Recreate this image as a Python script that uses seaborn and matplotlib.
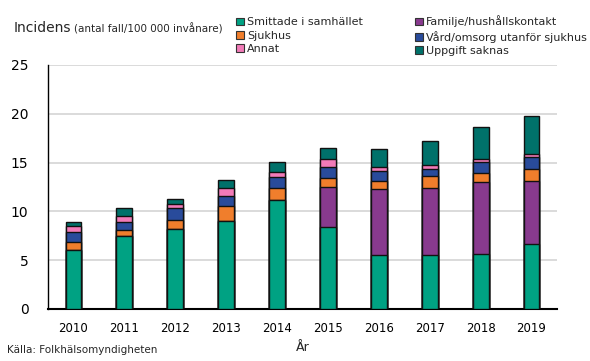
import numpy as np
import pandas as pd
import matplotlib
matplotlib.use("Agg")
import matplotlib.pyplot as plt
import seaborn as sns
from matplotlib.patches import Patch

years = ["2010", "2011", "2012", "2013", "2014", "2015", "2016", "2017", "2018", "2019"]
smittade = [6.04, 7.44, 8.20, 9.05, 11.21, 8.37, 5.56, 5.56, 5.62, 6.69]
familje = [0, 0, 0, 0, 0, 4.08, 6.75, 6.85, 7.38, 6.45]
sjukhus = [0.78, 0.62, 0.89, 1.55, 1.20, 0.96, 0.79, 1.17, 0.96, 1.16]
vard = [1.07, 0.82, 1.30, 0.96, 1.10, 1.13, 1.06, 0.79, 1.13, 1.23]
annat = [0.58, 0.62, 0.34, 0.79, 0.52, 0.86, 0.42, 0.38, 0.31, 0.31]
saknas = [0.45, 0.82, 0.59, 0.82, 0.99, 1.13, 1.78, 2.46, 3.29, 3.95]

series = [
    ("Smittade i samhället", smittade, "#00a283"),
    ("Familje/hushållskontakt", familje, "#883a8e"),
    ("Sjukhus", sjukhus, "#f07e2c"),
    ("Vård/omsorg utanför sjukhus", vard, "#294b9b"),
    ("Annat", annat, "#f27bb8"),
    ("Uppgift saknas", saknas, "#00716a"),
]

sns.set_theme(style="white")
plt.rcParams['font.family'] = ['DejaVu Sans']

fig = plt.figure(figsize=(5.9, 3.61), dpi=100)
ax = fig.add_axes([48/590, 1-309/361, (557-48)/590, (309-65)/361])

cum = np.cumsum(np.array([s[1] for s in series]), axis=0)
for i in range(len(series) - 1, -1, -1):
    df = pd.DataFrame({"year": years, "value": cum[i]})
    sns.barplot(data=df, x="year", y="value", order=years, color=series[i][2],
                saturation=1, width=0.31, edgecolor="#111111", linewidth=1.0,
                ax=ax, zorder=3)

ax.set_ylim(0, 25)
ax.set_xlim(-0.5, 9.5)
ax.set_yticks([0, 5, 10, 15, 20, 25])
ax.yaxis.grid(True, color="#d4d4d4", linewidth=1.2)
ax.xaxis.grid(False)
ax.set_axisbelow(True)
for s in ["top", "right"]:
    ax.spines[s].set_visible(False)
ax.spines["left"].set_color("black")
ax.spines["left"].set_linewidth(1.0)
ax.spines["bottom"].set_color("black")
ax.spines["bottom"].set_linewidth(1.5)
ax.tick_params(axis="y", length=0, labelsize=10, pad=14, colors="black")
ax.tick_params(axis="x", which="major", length=0, labelsize=8.5, pad=9, colors="black")
ax.set_xticks(np.arange(-0.5, 10, 1), minor=True)
ax.tick_params(axis="x", which="minor", length=4, width=1.0, direction="out", color="black")
ax.set_ylabel("")
ax.set_xlabel("År", fontsize=9, labelpad=5)

handles = [Patch(facecolor=c, edgecolor="#333333", linewidth=0.8, label=l) for l, v, c in series]
order = [0, 2, 4, 1, 3, 5]
fig.legend([handles[i] for i in order], [series[i][0] for i in order],
           loc="upper left", bbox_to_anchor=(232/590, 1-11/361), ncol=2,
           frameon=False, fontsize=8, handlelength=0.7, handleheight=0.7,
           handletextpad=0.25, columnspacing=4.7, labelspacing=0.3,
           borderaxespad=0)

t1 = fig.text(14/590, 1-28/361, "Incidens", fontsize=10, va="center", ha="left")
fig.canvas.draw()
bb = t1.get_window_extent()
x2 = bb.x1 / fig.bbox.width + 3/590
fig.text(x2, 1-29/361, "(antal fall/100 000 invånare)", fontsize=7.5, va="center", ha="left")

fig.text(7/590, 1-350/361, "Källa: Folkhälsomyndigheten", fontsize=7.5, va="center", ha="left")

fig.savefig("out.png", dpi=100)
